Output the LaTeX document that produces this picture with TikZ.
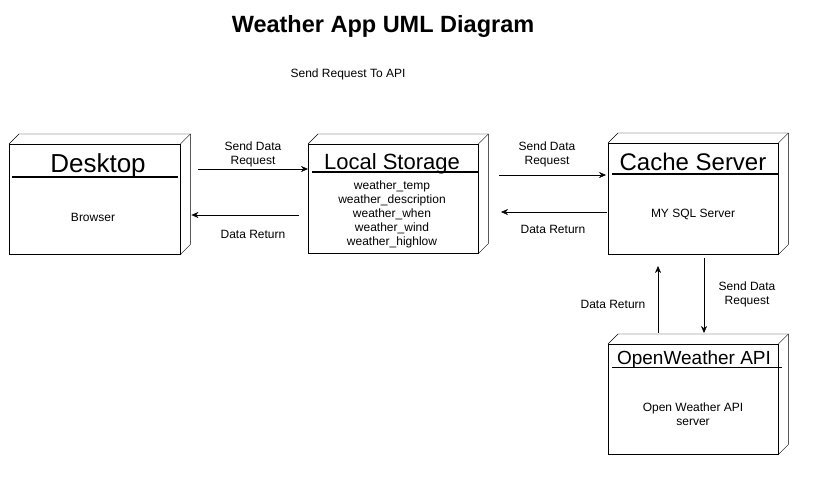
\documentclass[tikz,border=0pt]{standalone}
\usepackage{fontspec}
\setmainfont{Liberation Sans}
\usetikzlibrary{arrows.meta,calc}

\tikzset{
  nodebox/.style={draw, minimum width=170pt, minimum height=110pt, inner sep=0pt, anchor=north west},
  lbl/.style={font=\fontsize{12}{14}\selectfont, align=center, inner sep=0pt},
  headtxt/.style={inner sep=0pt, anchor=base},
  arr/.style={-{Stealth[length=7pt,width=6pt]}}
}

\begin{document}
\begin{tikzpicture}[x=1pt,y=-1pt]
\useasboundingbox (0,0) rectangle (818,490);
% title
\node[headtxt, font=\fontsize{23.5}{27}\selectfont\bfseries] (title) at (383,32) {Weather App UML Diagram};
\node[lbl] (apinote) at (348,74) {Send Request To API};

% the four deployment boxes
\node[nodebox, minimum width=171pt] (desk) at (9,144) {};
\node[nodebox, minimum height=109pt] (store) at (308,144) {};
\node[nodebox, minimum height=111pt] (cache) at (608,143) {};
\node[nodebox] (owapi) at (608,344) {};
\foreach \n in {desk,store,cache,owapi}{
  \draw (\n.north west) -- ++(10,-10) -- ($(\n.north east)+(10,-10)$)
    -- ($(\n.south east)+(10,-10)$) -- (\n.south east);
  \draw (\n.north east) -- ++(10,-10);
}

% headers
\node[headtxt, font=\fontsize{26}{30}\selectfont] (deskT) at (98,172) {Desktop};
\draw[line width=2pt] (12,177) -- (178,177);
\node[headtxt, font=\fontsize{22}{26}\selectfont] (storeT) at (392,169) {Local Storage};
\draw[line width=2pt] (312,172) -- (478,172);
\node[headtxt, font=\fontsize{24}{28}\selectfont] (cacheT) at (693,170) {Cache Server};
\draw[line width=2pt] (612,174) -- (778,174);
\node[headtxt, font=\fontsize{19}{23}\selectfont] (owapiT) at (694,364) {OpenWeather API};
\draw (612,367) -- (782,367);

% box contents
\node[lbl] (deskB) at (93,217) {Browser};
\node[lbl] (storeB) at (392,214) {weather\_temp\\weather\_description\\weather\_when\\weather\_wind\\weather\_highlow};
\node[lbl] (cacheB) at (693,214) {MY SQL Server};
\node[lbl] (owapiB) at (693,414) {Open Weather API\\server};

% connectors
\coordinate (r1) at (198,169);
\coordinate (r2) at (299,215);
\coordinate (r3) at (499,175);
\coordinate (r4) at (607,212);
\coordinate (r5) at (704,258);
\coordinate (r6) at (658,333);
\draw[arr] (r1) -- (store.west |- r1);
\draw[arr] (r2) -- ($(desk.east |- r2)+(11,0)$);
\draw[arr] (r3) -- ($(cache.west |- r3)+(-2,0)$);
\draw[arr] (r4) -- (501,212);
\draw[arr] (r5) -- ($(owapi.north -| r5)+(0,-11)$);
\draw[arr] (r6) -- (658,266);

\node[lbl] (req1) at (253,154) {Send Data\\Request};
\node[lbl] (ret1) at (253,234) {Data Return};
\node[lbl] (req2) at (547,154) {Send Data\\Request};
\node[lbl] (ret2) at (553,229) {Data Return};
\node[lbl] (req3) at (747,294) {Send Data\\Request};
\node[lbl] (ret3) at (613,304) {Data Return};
\end{tikzpicture}
\end{document}
